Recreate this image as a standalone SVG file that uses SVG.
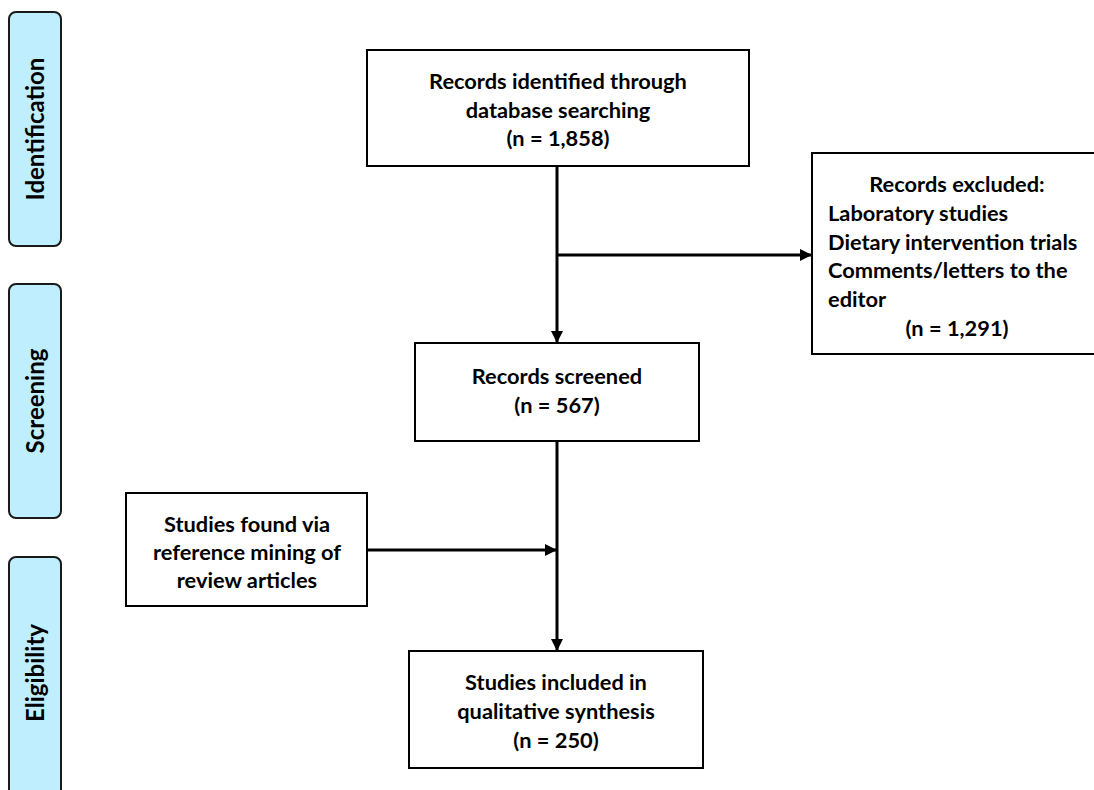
<svg xmlns="http://www.w3.org/2000/svg" width="1094" height="790" viewBox="0 0 1094 790">
<defs>
<marker id="arr" viewBox="0 0 12 12" refX="12" refY="6" markerWidth="12" markerHeight="12" markerUnits="userSpaceOnUse" orient="auto">
<path d="M0,0 L12,6 L0,12 Z" fill="#000"/>
</marker>
<style>
.box{fill:#fff;stroke:#000;stroke-width:2}
.tab{fill:#bfeeff;stroke:#1a1a1a;stroke-width:2}
.t{font-family:Lato,"Liberation Sans",sans-serif;font-size:21.8px;font-weight:700;fill:#000}
.c{text-anchor:middle}
.tabt{font-family:Lato,"Liberation Sans",sans-serif;font-size:24px;font-weight:700;fill:#000;text-anchor:middle}
.ln{stroke:#000;stroke-width:3;fill:none}
</style>
</defs>
<rect width="1094" height="790" fill="#fff"/>
<g id="tab-identification">
<rect class="tab" x="9" y="12" width="52" height="234" rx="7"/>
<text class="tabt" transform="translate(44,129) rotate(-90)">Identification</text>
</g>
<g id="tab-screening">
<rect class="tab" x="9" y="284" width="52" height="234" rx="7"/>
<text class="tabt" transform="translate(44,401) rotate(-90)">Screening</text>
</g>
<g id="tab-eligibility">
<rect class="tab" x="9" y="557" width="52" height="240" rx="7"/>
<text class="tabt" transform="translate(44,673) rotate(-90)">Eligibility</text>
</g>
<g id="connectors">
<line class="ln" x1="557" y1="166" x2="557" y2="343" marker-end="url(#arr)"/>
<line class="ln" x1="557" y1="255" x2="812" y2="255" marker-end="url(#arr)"/>
<line class="ln" x1="557" y1="441" x2="557" y2="651" marker-end="url(#arr)"/>
<line class="ln" x1="367" y1="550" x2="557" y2="550" marker-end="url(#arr)"/>
</g>
<g id="records-identified">
<rect class="box" x="367" y="50" width="382" height="116"/>
<text class="t c" x="558" y="89">Records identified through</text>
<text class="t c" x="558" y="118">database searching</text>
<text class="t c" x="558" y="146">(n = 1,858)</text>
</g>
<g id="records-excluded">
<rect class="box" x="812" y="153" width="290" height="201"/>
<text class="t c" x="957" y="192">Records excluded:</text>
<text class="t" x="828" y="221">Laboratory studies</text>
<text class="t" x="828" y="250">Dietary intervention trials</text>
<text class="t" x="828" y="278">Comments/letters to the</text>
<text class="t" x="828" y="307">editor</text>
<text class="t c" x="957" y="336">(n = 1,291)</text>
</g>
<g id="records-screened">
<rect class="box" x="415" y="343" width="284" height="98"/>
<text class="t c" x="557" y="384">Records screened</text>
<text class="t c" x="557" y="413">(n = 567)</text>
</g>
<g id="studies-found">
<rect class="box" x="126" y="493" width="241" height="113"/>
<text class="t c" x="247" y="532">Studies found via</text>
<text class="t c" x="247" y="560">reference mining of</text>
<text class="t c" x="247" y="588">review articles</text>
</g>
<g id="studies-included">
<rect class="box" x="409" y="651" width="294" height="117"/>
<text class="t c" x="556" y="690">Studies included in</text>
<text class="t c" x="556" y="719">qualitative synthesis</text>
<text class="t c" x="556" y="748">(n = 250)</text>
</g>
</svg>
